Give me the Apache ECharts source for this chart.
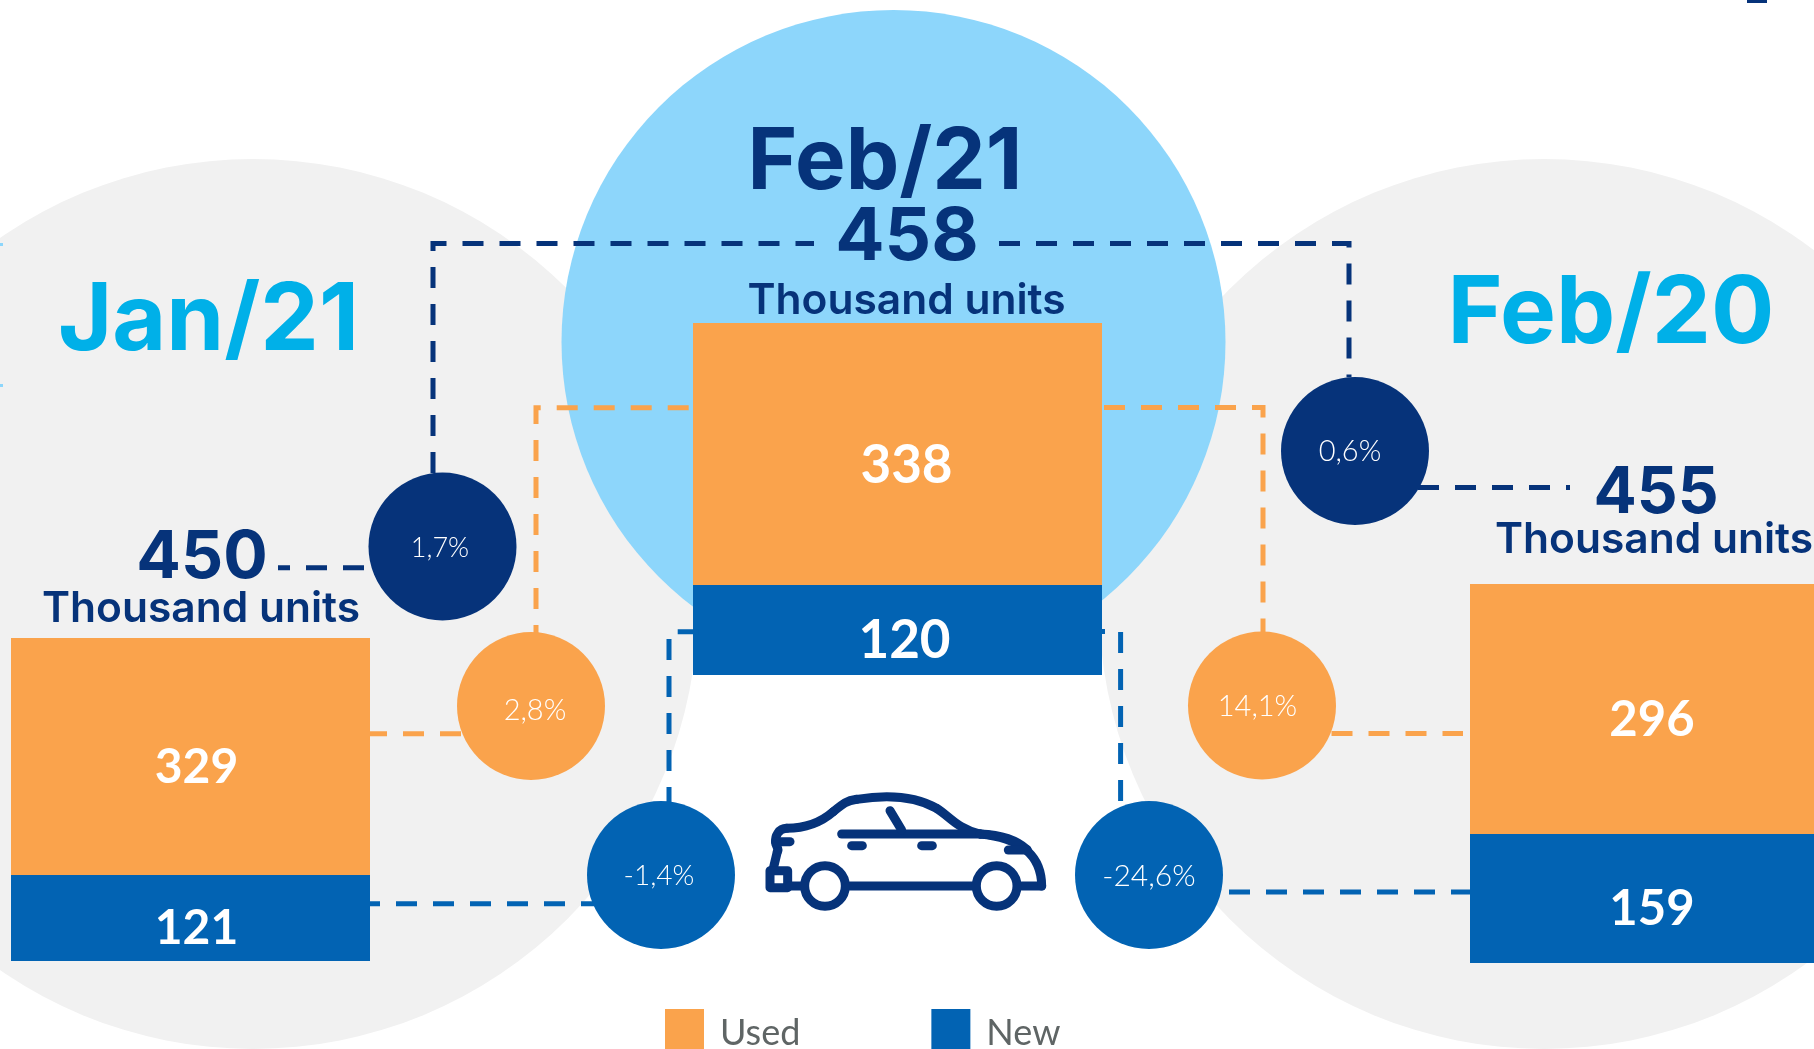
<!DOCTYPE html>
<html>
<head>
<meta charset="utf-8">
<title>Vehicle sales Feb/21</title>
<script src="https://cdn.jsdelivr.net/npm/echarts@6/dist/echarts.min.js"></script>
<style>
  html, body { margin: 0; padding: 0; background: #fff; overflow: hidden; }
  #chart { width: 1814px; height: 1049px; }
</style>
</head>
<body>
<div id="chart"></div>
<script>
// data
const periods = ['Jan/21', 'Feb/21', 'Feb/20'];
const usedValues = [329, 338, 296];
const newValues = [121, 120, 159];
const totalValues = [450, 458, 455];
const unitLabel = 'Thousand units';
const totalChanges = ['1,7%', '0,6%'];
const usedChanges = ['2,8%', '14,1%'];
const newChanges = ['-1,4%', '-24,6%'];
const seriesNames = ['Used', 'New'];

// colours
const ORANGE = '#faa34c';
const BLUE = '#0263b3';
const NAVY = '#06337a';
const CYAN = '#00b0e8';
const SKY = '#8dd6fb';
const GREY = '#f1f1f1';
const FONT = 'Lato';
const HEAD_FONT = 'Inter';

// each bar has its own little grid, the source is not drawn on one shared scale
const panels = [
  { left: 11, top: 638, width: 359, height: 323, floor: 1.6, fontSize: 48, offsetUsed: [6, 11], offsetNew: [6, 11] },
  { left: 693, top: 323, width: 409, height: 352, floor: 3.9, fontSize: 53, offsetUsed: [9, 12], offsetNew: [7, 11] },
  { left: 1470, top: 584, width: 344, height: 379, floor: 6.3, fontSize: 49, offsetUsed: [10, 11], offsetNew: [10, 11] }
];

const grids = [], xAxes = [], yAxes = [], series = [];
panels.forEach((p, i) => {
  grids.push({ left: p.left, top: p.top, width: p.width, height: p.height });
  xAxes.push({ type: 'category', gridIndex: i, show: false, data: [periods[i]] });
  yAxes.push({ type: 'value', gridIndex: i, show: false, min: p.floor, max: totalValues[i] });
  const label = { show: true, position: 'inside', color: '#fff', fontFamily: FONT, fontWeight: 'bold', fontSize: p.fontSize };
  series.push({
    name: seriesNames[1], type: 'bar', stack: 's' + i, xAxisIndex: i, yAxisIndex: i, barWidth: '100%',
    itemStyle: { color: BLUE }, label: { ...label, offset: p.offsetNew }, data: [newValues[i]]
  });
  series.push({
    name: seriesNames[0], type: 'bar', stack: 's' + i, xAxisIndex: i, yAxisIndex: i, barWidth: '100%',
    itemStyle: { color: ORANGE }, label: { ...label, offset: p.offsetUsed }, data: [usedValues[i]]
  });
});

function disc(cx, cy, r, color, z) {
  return { type: 'circle', silent: true, z: z, shape: { cx: cx, cy: cy, r: r }, style: { fill: color } };
}
function box(x, y, width, height, color) {
  return { type: 'rect', silent: true, z: 1, shape: { x: x, y: y, width: width, height: height }, style: { fill: color } };
}
function dashed(points, color) {
  return {
    type: 'polyline', silent: true, z: 4, shape: { points: points },
    style: { stroke: color, fill: null, lineWidth: 5, lineDash: [21, 16] }
  };
}
function label(text, x, y, size, weight, color, family) {
  return {
    type: 'text', silent: true, z: 8,
    style: {
      text: text, x: x, y: y, fill: color, fontFamily: family || FONT, fontSize: size, fontWeight: weight,
      textAlign: 'center', textVerticalAlign: 'middle'
    }
  };
}

// car icon in 3x pixels
const carStyle = { fill: null, stroke: NAVY, lineWidth: 27, lineCap: 'round', lineJoin: 'round' };
function carLine(points) {
  return { type: 'polyline', silent: true, z: 5, shape: { points: points }, style: carStyle };
}
function carCurve(x1, y1, cpx1, cpy1, cpx2, cpy2, x2, y2) {
  return {
    type: 'bezierCurve', silent: true, z: 5,
    shape: { x1: x1, y1: y1, cpx1: cpx1, cpy1: cpy1, cpx2: cpx2, cpy2: cpy2, x2: x2, y2: y2 },
    style: carStyle
  };
}
function carWheel(cx, cy) {
  return { type: 'circle', silent: true, z: 5, shape: { cx: cx, cy: cy, r: 61 }, style: carStyle };
}
const carParts = [
  carLine([[330, 378], [700, 378]]),
  carLine([[845, 378], [905, 378]]),
  carCurve(905, 378, 905, 300, 860, 235, 720, 222),
  carCurve(720, 222, 650, 205, 630, 170, 590, 145),
  carCurve(590, 145, 520, 105, 430, 105, 350, 118),
  carCurve(350, 118, 320, 122, 310, 130, 280, 155),
  carCurve(280, 155, 240, 190, 190, 205, 140, 205),
  carCurve(140, 205, 115, 205, 105, 230, 107, 245),
  carLine([[107, 245], [150, 245]]),
  carCurve(107, 245, 105, 260, 120, 265, 112, 275),
  carLine([[112, 275], [100, 325]]),
  carLine([[305, 222], [720, 222]]),
  carCurve(720, 222, 790, 225, 830, 240, 860, 268),
  carLine([[805, 270], [862, 270]]),
  carLine([[450, 152], [485, 210]]),
  carLine([[335, 257], [367, 257]]),
  carLine([[545, 257], [577, 257]]),
  carLine([[90, 332], [143, 332], [143, 383], [90, 383], [90, 332]]),
  carLine([[150, 378], [185, 378]]),
  carWheel(255, 378),
  carWheel(770, 378)
];

const graphics = [
  // backdrop
  disc(253, 604, 445, GREY, 0),
  disc(1544, 604, 445, GREY, 0),
  disc(893.5, 342, 332, SKY, 1),
  box(0, 243, 3, 3, SKY),
  box(0, 384, 3, 3, SKY),
  box(1747, 0, 20, 3, NAVY),

  // connectors
  dashed([[433, 473], [433, 243.5], [814, 243.5]], NAVY),
  dashed([[999, 243.5], [1349, 243.5], [1349, 377]], NAVY),
  dashed([[364, 567.7], [278, 567.7]], NAVY),
  dashed([[1418, 487.4], [1570, 487.4]], NAVY),
  dashed([[536, 646], [536, 407.7], [693, 407.7]], ORANGE),
  dashed([[1104, 407.5], [1263, 407.5], [1263, 640]], ORANGE),
  dashed([[461, 733.7], [370, 733.7]], ORANGE),
  dashed([[1331.5, 733.5], [1463, 733.5]], ORANGE),
  dashed([[669, 808], [669, 631.7], [699, 631.7]], BLUE),
  dashed([[1084, 631.5], [1120.6, 631.5], [1120.6, 802]], BLUE),
  dashed([[602, 903.7], [370, 903.7]], BLUE),
  dashed([[1229, 892], [1470, 892]], BLUE),

  // change bubbles
  disc(442.5, 546.5, 74, NAVY, 6),
  disc(1355, 451, 74, NAVY, 6),
  disc(531, 706, 74, ORANGE, 6),
  disc(1262, 705.5, 74, ORANGE, 6),
  disc(661, 875, 74, BLUE, 6),
  disc(1149, 875, 74, BLUE, 6),
  label(totalChanges[0], 440, 548, 27, 300, '#fff'),
  label(totalChanges[1], 1350, 452, 29, 300, '#fff'),
  label(usedChanges[0], 535, 711, 29, 300, '#fff'),
  label(usedChanges[1], 1257.5, 707, 29, 300, '#fff'),
  label(newChanges[0], 659, 876, 28, 300, '#fff'),
  label(newChanges[1], 1149, 876, 30, 300, '#fff'),

  // headings
  label(periods[0], 208.5, 322, 93, 'bold', CYAN, HEAD_FONT),
  label(periods[1], 885, 163, 85, 'bold', NAVY, HEAD_FONT),
  label(periods[2], 1611, 315, 94, 'bold', CYAN, HEAD_FONT),
  label(String(totalValues[0]), 202, 558, 66, 'bold', NAVY, HEAD_FONT),
  label(String(totalValues[1]), 907, 238, 73, 'bold', NAVY, HEAD_FONT),
  label(String(totalValues[2]), 1656, 494, 64, 'bold', NAVY, HEAD_FONT),
  label(unitLabel, 201, 609, 42.5, 600, NAVY, HEAD_FONT),
  label(unitLabel, 906.5, 301, 42.5, 600, NAVY, HEAD_FONT),
  label(unitLabel, 1654, 540, 42.5, 600, NAVY, HEAD_FONT),

  // car
  { type: 'group', silent: true, x: 740, y: 760, scaleX: 1 / 3, scaleY: 1 / 3, children: carParts }
];

const myChart = echarts.init(document.getElementById('chart'));
myChart.setOption({
  animation: false,
  backgroundColor: '#fff',
  legend: {
    data: seriesNames,
    left: 665,
    top: 1009,
    padding: 0,
    icon: 'rect',
    itemWidth: 39,
    // squares run off the bottom of the page, taller item pushes the text down
    itemHeight: 48,
    itemGap: 131,
    selectedMode: false,
    textStyle: { color: '#5f6565', fontFamily: FONT, fontSize: 36, padding: [0, 0, 0, 11] }
  },
  grid: grids,
  xAxis: xAxes,
  yAxis: yAxes,
  series: series,
  graphic: { elements: graphics }
});
</script>
</body>
</html>
